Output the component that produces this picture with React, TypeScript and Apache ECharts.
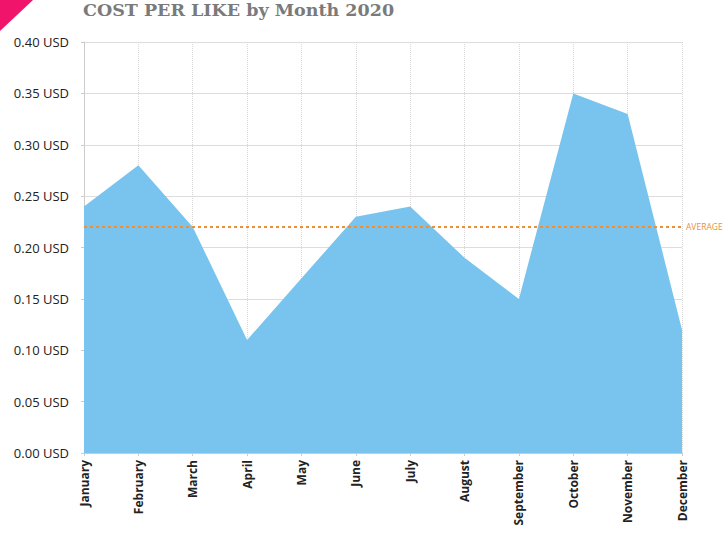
import React, { useEffect, useRef } from "react";
import * as echarts from "echarts";

const months = ["January","February","March","April","May","June","July","August","September","October","November","December"];
const costPerLike = [0.24, 0.28, 0.22, 0.11, 0.17, 0.23, 0.24, 0.19, 0.15, 0.35, 0.33, 0.12];
const averageValue = 0.22;
const averageLabel = "AVERAGE";
const titleText = "COST PER LIKE by Month 2020";

export default function App() {
  const ref = useRef<HTMLDivElement>(null);
  useEffect(() => {
    if (!ref.current) return;
    const chart = echarts.init(ref.current, null, { renderer: "svg" });
    chart.setOption({
      animation: false,
      backgroundColor: "#ffffff",
      title: {
        text: titleText,
        left: 83,
        top: 1,
        padding: 0,
        textStyle: { fontFamily: "DejaVu Serif", fontWeight: "bold", fontSize: 17.5, color: "#7a7a7a" },
      },
      graphic: [
        {
          type: "polygon",
          shape: { points: [[0, 0], [33, 0], [0, 31]] },
          style: { fill: "#f0146a" },
        },
      ],
      grid: { left: 84, right: 46, top: 42, bottom: 93 },
      xAxis: {
        type: "category",
        data: months,
        boundaryGap: false,
        axisLine: { show: true, lineStyle: { color: "#cccccc" } },
        axisTick: { show: true, length: 3, lineStyle: { color: "#cccccc" } },
        splitLine: { show: true, lineStyle: { color: "#d8d8d8", type: "dotted" } },
        axisLabel: {
          rotate: 90,
          fontFamily: "Open Sans",
          fontWeight: "bold",
          fontSize: 12,
          color: "#222222",
          margin: 7,
        },
      },
      yAxis: {
        type: "value",
        min: 0,
        max: 0.4,
        interval: 0.05,
        axisLine: { show: true, lineStyle: { color: "#cccccc" } },
        axisTick: { show: true, length: 3, lineStyle: { color: "#cccccc" } },
        splitLine: { show: true, lineStyle: { color: "#dddddd" } },
        axisLabel: {
          fontFamily: "Open Sans",
          fontSize: 13,
          color: "#222222",
          margin: 15,
          formatter: (v: number) => v.toFixed(2) + " USD",
        },
      },
      series: [
        {
          type: "line",
          data: costPerLike,
          symbol: "none",
          lineStyle: { width: 0 },
          areaStyle: { color: "#78c4ee", opacity: 1 },
          markLine: {
            silent: true,
            symbol: "none",
            data: [{ yAxis: averageValue }],
            lineStyle: { color: "#e8913a", type: [3, 3], width: 2 },
            label: {
              show: true,
              position: "end",
              formatter: averageLabel,
              color: "#e8913a",
              fontSize: 8.5,
              fontFamily: "Open Sans",
              distance: 4,
            },
          },
        },
      ],
    });
    return () => chart.dispose();
  }, []);
  return <div ref={ref} style={{ position: "absolute", left: 0, top: 0, width: 728, height: 546 }} />;
}
